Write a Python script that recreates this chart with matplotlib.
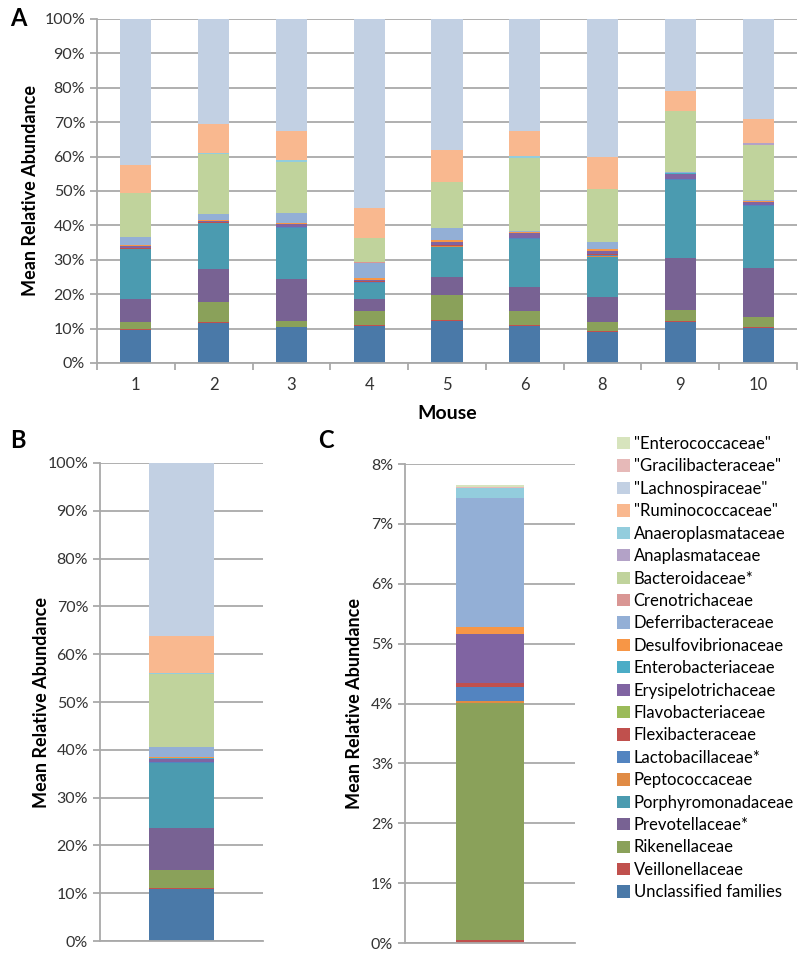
import numpy as np
import matplotlib.pyplot as plt
import matplotlib.ticker as ticker
from matplotlib.patches import Patch

plt.rcParams['font.family'] = ['Lato', 'DejaVu Sans']

# families, bottom of the stack first
families = ['Unclassified families', 'Veillonellaceae', 'Rikenellaceae', 'Prevotellaceae*',
            'Porphyromonadaceae', 'Peptococcaceae', 'Lactobacillaceae*', 'Flexibacteraceae',
            'Flavobacteriaceae', 'Erysipelotrichaceae', 'Enterobacteriaceae', 'Desulfovibrionaceae',
            'Deferribacteraceae', 'Crenotrichaceae', 'Bacteroidaceae*', 'Anaplasmataceae',
            'Anaeroplasmataceae', '"Ruminococcaceae"', '"Lachnospiraceae"', '"Gracilibacteraceae"',
            '"Enterococcaceae"']
colors = ['#4a79a8', '#c0504d', '#8aa15a', '#786293', '#4b9bb0', '#e08b45', '#5384c0', '#c0504d',
          '#9bbb59', '#8064a2', '#4bacc6', '#f79646', '#93afd6', '#d99694', '#c0d39c', '#b3a2c7',
          '#93cddd', '#f9b88f', '#c2d0e3', '#e6b9b8', '#d7e4bd']

mice = ['1', '2', '3', '4', '5', '6', '8', '9', '10']

# panel A, % per mouse
unclassified = [9.6, 11.5, 10.4, 10.9, 12.2, 10.8, 9.1, 12.0, 10.3]
veillonellaceae = [0.3, 0.4, 0.2, 0.2, 0.2, 0.3, 0.2, 0.2, 0.2]
rikenellaceae = [2.1, 5.7, 1.6, 4.1, 7.3, 4.1, 2.5, 3.2, 3.0]
prevotellaceae = [6.5, 9.6, 12.3, 3.3, 5.4, 6.8, 7.5, 15.0, 14.2]
porphyromonadaceae = [14.5, 13.4, 14.7, 4.7, 8.7, 14.0, 11.6, 22.8, 17.9]
peptococcaceae = [0.1, 0.1, 0.1, 0.2, 0.1, 0.1, 0.3, 0.1, 0.1]
lactobacillaceae = [0.1, 0.1, 0.1, 0.1, 0.1, 0.1, 0.1, 0.1, 0.1]
flexibacteraceae = [0.1, 0.1, 0.2, 0.2, 0.3, 0.1, 0.4, 0.1, 0.1]
flavobacteriaceae = [0.05, 0.05, 0.05, 0.05, 0.05, 0.05, 0.05, 0.05, 0.05]
erysipelotrichaceae = [0.6, 0.3, 0.8, 0.3, 0.9, 1.5, 0.8, 1.5, 0.9]
enterobacteriaceae = [0.05, 0.05, 0.05, 0.05, 0.05, 0.05, 0.05, 0.05, 0.05]
desulfovibrionaceae = [0.2, 0.3, 0.2, 0.5, 0.5, 0.1, 0.6, 0.1, 0.1]
deferribacteraceae = [2.5, 1.7, 2.9, 4.6, 3.3, 0.3, 2.0, 0.3, 0.3]
crenotrichaceae = [0.05, 0.05, 0.05, 0.05, 0.05, 0.05, 0.05, 0.05, 0.05]
bacteroidaceae = [12.7, 17.5, 14.7, 7.0, 13.5, 21.3, 15.3, 17.7, 16.0]
anaplasmataceae = [0.0, 0.0, 0.0, 0.0, 0.0, 0.0, 0.0, 0.0, 0.5]
anaeroplasmataceae = [0.1, 0.1, 0.7, 0.1, 0.1, 0.6, 0.1, 0.1, 0.1]
ruminococcaceae = [8.1, 8.4, 8.3, 8.8, 9.2, 7.2, 9.2, 5.6, 7.0]
lachnospiraceae = [42.3, 30.7, 32.6, 54.8, 38.0, 32.5, 40.1, 21.0, 29.0]
gracilibacteraceae = [0.02, 0.02, 0.02, 0.02, 0.02, 0.02, 0.02, 0.02, 0.02]
enterococcaceae = [0.02, 0.02, 0.02, 0.02, 0.02, 0.02, 0.02, 0.02, 0.02]

series_a = [unclassified, veillonellaceae, rikenellaceae, prevotellaceae, porphyromonadaceae,
            peptococcaceae, lactobacillaceae, flexibacteraceae, flavobacteriaceae,
            erysipelotrichaceae, enterobacteriaceae, desulfovibrionaceae, deferribacteraceae,
            crenotrichaceae, bacteroidaceae, anaplasmataceae, anaeroplasmataceae,
            ruminococcaceae, lachnospiraceae, gracilibacteraceae, enterococcaceae]

# panel B: mean of all mice, same family order
mean_all = [10.8, 0.3, 3.7, 8.9, 13.5, 0.1, 0.1, 0.1, 0.05, 0.6, 0.05, 0.2, 2.2, 0.05,
            15.2, 0.05, 0.2, 7.8, 36.1, 0.02, 0.02]

# panel C: low abundance families, same family order
mean_low = [0.0, 0.045, 3.96, 0.0, 0.0, 0.045, 0.23, 0.06, 0.0, 0.82, 0.0, 0.11, 2.16, 0.0,
            0.0, 0.0, 0.17, 0.0, 0.0, 0.02, 0.025]

GRID = '#a9a9a9'
TXT = '#333333'


def style(ax):
    ax.set_axisbelow(True)
    ax.yaxis.grid(True, color=GRID, lw=1.3)
    for s in ['top', 'right']:
        ax.spines[s].set_visible(False)
    for s in ['left', 'bottom']:
        ax.spines[s].set_color(GRID)
        ax.spines[s].set_linewidth(1.3)
    ax.tick_params(axis='y', colors=GRID, labelcolor=TXT, length=5, width=1.3, labelsize=11.5)
    ax.yaxis.set_major_formatter(ticker.PercentFormatter(decimals=0))


def stack(ax, x, data, width):
    bottom = np.zeros(len(x))
    for vals, c in zip(data, colors):
        vals = np.asarray(vals, dtype=float)
        ax.bar(x, vals, width, bottom=bottom, color=c, linewidth=0)
        bottom += vals


fig = plt.figure(figsize=(8, 9.55), dpi=100)

# A
axA = fig.add_axes([97/800, 1-363/955, 700/800, 344/955])
xa = np.arange(len(mice))
stack(axA, xa, series_a, 0.4)
style(axA)
axA.set_xlim(-0.5, len(mice) - 0.5)
axA.set_ylim(0, 100)
axA.yaxis.set_major_locator(ticker.MultipleLocator(10))
axA.set_xticks(xa)
axA.set_xticklabels(mice)
axA.set_xticks(np.arange(len(mice) + 1) - 0.5, minor=True)
axA.tick_params(axis='x', which='major', length=0, labelsize=12, labelcolor=TXT, pad=10)
axA.tick_params(axis='x', which='minor', length=5, width=1.3, color=GRID)
axA.set_xlabel('Mouse', fontsize=14, fontweight='bold', labelpad=9)
axA.set_ylabel('Mean Relative Abundance', fontsize=13, fontweight='bold', labelpad=4)

# B
axB = fig.add_axes([100/800, 1-941/955, 163/800, 478/955])
stack(axB, [0], [[v] for v in mean_all], 0.4)
style(axB)
axB.set_xlim(-0.5, 0.5)
axB.set_ylim(0, 100)
axB.yaxis.set_major_locator(ticker.MultipleLocator(10))
axB.set_xticks([])
axB.set_ylabel('Mean Relative Abundance', fontsize=13, fontweight='bold', labelpad=-2)

# C
axC = fig.add_axes([405/800, 1-943/955, 170/800, 479/955])
stack(axC, [0], [[v] for v in mean_low], 0.4)
style(axC)
axC.set_xlim(-0.5, 0.5)
axC.set_ylim(0, 8)
axC.yaxis.set_major_locator(ticker.MultipleLocator(1))
axC.set_xticks([])
axC.set_ylabel('Mean Relative Abundance', fontsize=13, fontweight='bold', labelpad=6)

fig.text(18/800, 1-18/955, 'A', fontsize=17, fontweight='bold', ha='center', va='center')
fig.text(18/800, 1-440/955, 'B', fontsize=17, fontweight='bold', ha='center', va='center')
fig.text(326/800, 1-440/955, 'C', fontsize=17, fontweight='bold', ha='center', va='center')

handles = [Patch(facecolor=c, edgecolor='none', label=f) for f, c in zip(families, colors)][::-1]
fig.legend(handles=handles, loc='upper left', bbox_to_anchor=(617/800, 1-436/955),
           frameon=False, fontsize=12, labelspacing=0.385, handlelength=0.75,
           handleheight=0.75, handletextpad=0.25, borderpad=0, borderaxespad=0)

fig.savefig('out.png', dpi=100)
